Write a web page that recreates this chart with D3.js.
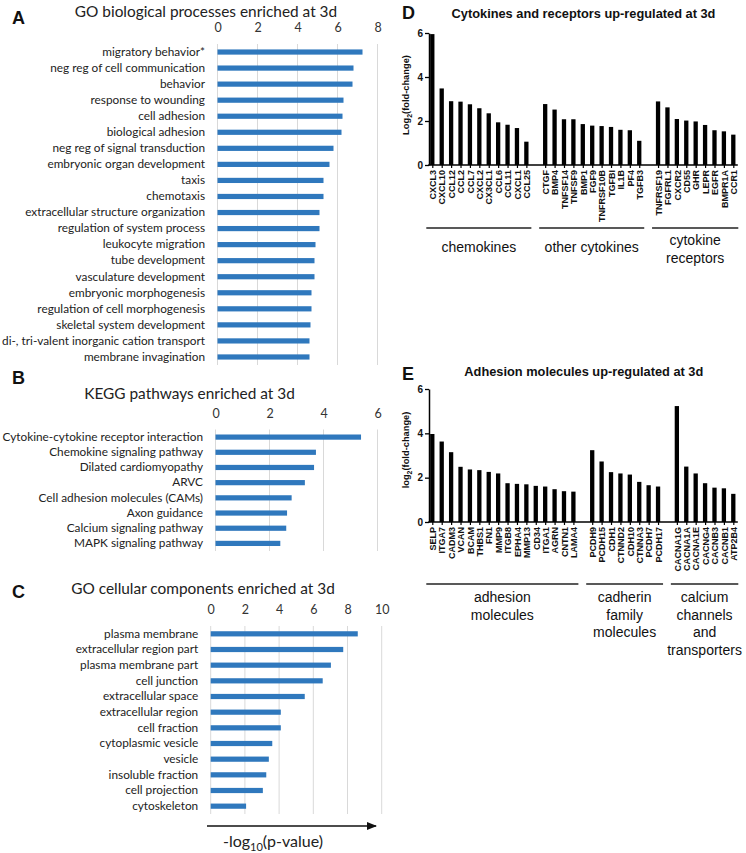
<!DOCTYPE html>
<html><head><meta charset="utf-8">
<script src="https://cdn.jsdelivr.net/npm/d3@7"></script>
<style>body{margin:0;background:#fff}svg{display:block}</style>
</head><body>
<svg id="c" width="746" height="853"></svg>
<script>
// ---------- DATA ----------
const bpLabels = ["migratory behavior*","neg reg of cell communication","behavior","response to wounding","cell adhesion","biological adhesion","neg reg of signal transduction","embryonic organ development","taxis","chemotaxis","extracellular structure organization","regulation of system process","leukocyte migration","tube development","vasculature development","embryonic morphogenesis","regulation of cell morphogenesis","skeletal system development","di-, tri-valent inorganic cation transport","membrane invagination"];
const bpValues = [7.25,6.8,6.75,6.3,6.25,6.2,5.8,5.6,5.3,5.3,5.1,5.1,4.9,4.85,4.85,4.7,4.7,4.65,4.6,4.6];
const bpTicks = [0,2,4,6,8];

const keggLabels = ["Cytokine-cytokine receptor interaction","Chemokine signaling pathway","Dilated cardiomyopathy","ARVC","Cell adhesion molecules (CAMs)","Axon guidance","Calcium signaling pathway","MAPK signaling pathway"];
const keggValues = [5.39,3.72,3.65,3.31,2.82,2.65,2.62,2.4];
const keggTicks = [0,2,4,6];

const ccLabels = ["plasma membrane","extracellular region part","plasma membrane part","cell junction","extracellular space","extracellular region","cell fraction","cytoplasmic vesicle","vesicle","insoluble fraction","cell projection","cytoskeleton"];
const ccValues = [8.6,7.75,7.03,6.55,5.5,4.1,4.1,3.6,3.4,3.25,3.05,2.07];
const ccTicks = [0,2,4,6,8,10];

const chemokineGenes = ["CXCL3","CXCL10","CCL12","CCL2","CCL7","CXCL2","CX3CL1","CCL6","CCL11","CXCL1","CCL25"];
const chemokineValues = [5.95,3.48,2.9,2.88,2.76,2.58,2.35,1.94,1.83,1.68,1.06];
const otherCytokineGenes = ["CTGF","BMP4","TNFSF14","TNFSF9","BMP1","FGF9","TNFRSF10B","TGFBI","IL1B","PF4","TGFB3"];
const otherCytokineValues = [2.77,2.52,2.08,2.08,1.86,1.79,1.77,1.73,1.6,1.58,1.1];
const receptorGenes = ["TNFRSF19","FGFRL1","CXCR2","CD55","GHR","LEPR","EGFR","BMPR1A","CCR1"];
const receptorValues = [2.89,2.62,2.09,2.02,1.98,1.82,1.58,1.53,1.38];

const adhesionGenes = ["SELP","ITGA7","CADM3","VCAN","BCAM","THBS1","FN1","MMP9","ITGB8","EPHA4","MMP13","CD34","ITGA1","AGRN","CNTN1","LAMA4"];
const adhesionValues = [3.97,3.63,3.15,2.49,2.37,2.34,2.26,2.19,1.75,1.72,1.7,1.63,1.6,1.48,1.39,1.37];
const cadherinGenes = ["PCDH9","PCDH15","CDH1","CTNND2","CDH10","CTNNA3","PCDH7","PCDH17"];
const cadherinValues = [3.24,2.73,2.25,2.19,2.14,1.81,1.66,1.6];
const calciumGenes = ["CACNA1G","CACNA1A","CACNA1E","CACNG4","CACNB3","CACNB1","ATP2B4"];
const calciumValues = [5.23,2.5,2.19,1.75,1.55,1.52,1.27];
const fcTicks = [0,2,4,6];

// ---------- DRAW ----------
const svg = d3.select("#c");
const calibri = "Lato, 'Open Sans', sans-serif";
const arial = "'Liberation Sans', Arial, sans-serif";
const blue = "#2f78bd";

function letter(t, x, y){
  svg.append("text").attr("x",x).attr("y",y).text(t)
    .attr("font-family",arial).attr("font-weight","bold").attr("font-size",18).attr("fill","#111");
}

function hbar(o){
  const x = d3.scaleLinear().domain([0,o.max]).range([o.x0,o.x1]);
  const y = d3.scaleBand().domain(o.labels).range([o.y0,o.y1]);
  const g = svg.append("g");
  g.append("text").attr("x",o.titleX).attr("y",o.titleY).attr("text-anchor","middle")
    .attr("font-family",calibri).attr("font-size",15.4).attr("fill","#222").text(o.title);
  g.selectAll("line.grid").data(o.ticks).join("line").attr("class","grid")
    .attr("x1",d=>x(d)).attr("x2",d=>x(d)).attr("y1",o.y0).attr("y2",o.y1)
    .attr("stroke","#d9d9d9").attr("stroke-width",1);
  const ax = g.append("g").attr("transform",`translate(0,${o.tickY})`)
    .call(d3.axisTop(x).tickValues(o.ticks).tickSize(0).tickPadding(0).tickFormat(d3.format("d")));
  ax.select(".domain").remove();
  ax.selectAll("text").attr("font-family",calibri).attr("font-size",12.5).attr("fill","#333");
  const bh = 5.2;
  g.selectAll("rect").data(o.values).join("rect")
    .attr("x",x(0)).attr("y",(d,i)=>y(o.labels[i])+(y.bandwidth()-bh)/2)
    .attr("width",d=>x(d)-x(0)).attr("height",bh).attr("fill",blue);
  const ay = g.append("g").attr("transform",`translate(${x(0)},0)`)
    .call(d3.axisLeft(y).tickSize(0).tickPadding(12.5));
  ay.select(".domain").remove();
  ay.selectAll("text").attr("font-family",calibri).attr("font-size",11.8).attr("fill","#222");
  return x;
}

letter("A",12,24);
hbar({labels:bpLabels,values:bpValues,ticks:bpTicks,max:8,x0:217.5,x1:377.5,y0:44,y1:365,
  tickY:31.5,title:"GO biological processes enriched at 3d",titleX:206,titleY:17});
letter("B",12,384);
hbar({labels:keggLabels,values:keggValues,ticks:keggTicks,max:6,x0:215.5,x1:377.5,y0:429.5,y1:551,
  tickY:417.5,title:"KEGG pathways enriched at 3d",titleX:189.5,titleY:399});
letter("C",12,598);
hbar({labels:ccLabels,values:ccValues,ticks:ccTicks,max:10,x0:210.7,x1:381.7,y0:626,y1:814,
  tickY:613.5,title:"GO cellular components enriched at 3d",titleX:203,titleY:593.5});

// arrow + x label for left column
svg.append("defs").append("marker").attr("id","ah").attr("viewBox","0 0 10 10")
  .attr("refX",9).attr("refY",5).attr("markerWidth",7).attr("markerHeight",7)
  .attr("orient","auto").append("path").attr("d","M0,1 L10,5 L0,9 Z").attr("fill","#111");
svg.append("line").attr("x1",207).attr("x2",376).attr("y1",826).attr("y2",826)
  .attr("stroke","#111").attr("stroke-width",1.5).attr("marker-end","url(#ah)");
const xl = svg.append("text").attr("x",273).attr("y",847).attr("text-anchor","middle")
  .attr("font-family",calibri).attr("font-size",16).attr("fill","#222");
xl.append("tspan").text("-log");
xl.append("tspan").attr("font-size",11).attr("dy",4).text("10");
xl.append("tspan").attr("dy",-4).text("(p-value)");

function vbar(o){
  const slots = [];
  o.groups.forEach((gr,gi)=>{ if(gi>0) slots.push("__gap"+gi); gr.genes.forEach(s=>slots.push(s)); });
  const x = d3.scalePoint().domain(slots).range([o.xStart,o.xEnd]);
  const y = d3.scaleLinear().domain([0,6]).range([o.yBase,o.yTop]);
  const g = svg.append("g");
  g.append("text").attr("x",o.titleX).attr("y",o.titleY).attr("text-anchor","middle")
    .attr("font-family",arial).attr("font-weight","bold").attr("font-size",12.8).attr("fill","#111").text(o.title);
  const bw = 4.3;
  o.groups.forEach(gr=>{
    g.append("g").selectAll("rect").data(gr.values).join("rect")
      .attr("x",(d,i)=>x(gr.genes[i])-bw/2).attr("y",d=>y(d))
      .attr("width",bw).attr("height",d=>y(0)-y(d)).attr("fill","#000");
  });
  // y axis
  const ay = g.append("g").attr("transform",`translate(${o.axisX},0)`)
    .call(d3.axisLeft(y).tickValues(fcTicks).tickSize(4).tickSizeOuter(0).tickPadding(2).tickFormat(d3.format("d")));
  ay.select(".domain").attr("stroke-width",1.5);
  ay.selectAll(".tick line").attr("stroke-width",1.3);
  ay.selectAll("text").attr("font-family",arial).attr("font-weight","bold").attr("font-size",10).attr("fill","#111");
  // x axis
  const genes = o.groups.flatMap(gr=>gr.genes);
  const axg = g.append("g").attr("transform",`translate(0,${o.yBase})`)
    .call(d3.axisBottom(x).tickValues(genes).tickSize(3).tickPadding(0));
  axg.select(".domain").remove();
  axg.selectAll(".tick line").attr("stroke-width",1.2);
  axg.selectAll("text").attr("transform","rotate(-90)").attr("text-anchor","end")
    .attr("x",-5).attr("y",0).attr("dy","0.36em")
    .attr("font-family",arial).attr("font-weight","bold").attr("font-size",9).attr("fill","#111");
  g.append("line").attr("x1",o.axisX-0.75).attr("x2",o.xEnd+4.5).attr("y1",o.yBase).attr("y2",o.yBase)
    .attr("stroke","#000").attr("stroke-width",1.5);
  // y title
  const yt = g.append("text").attr("transform",`translate(${o.yTitleX},${o.yTitleY}) rotate(-90)`)
    .attr("text-anchor","middle").attr("font-family",arial).attr("font-weight","bold")
    .attr("font-size",9.3).attr("fill","#111");
  yt.append("tspan").text(o.yTitle[0]);
  yt.append("tspan").attr("font-size",7).attr("dy",3).text("2");
  yt.append("tspan").attr("dy",-3).text("(fold-change)");
  // group brackets
  o.groups.forEach(gr=>{
    const a = x(gr.genes[0])-6, b = x(gr.genes[gr.genes.length-1])+5;
    g.append("line").attr("x1",a).attr("x2",b).attr("y1",o.lineY).attr("y2",o.lineY)
      .attr("stroke","#222").attr("stroke-width",1.5);
    const t = g.append("text").attr("text-anchor","middle").attr("font-family",arial)
      .attr("font-size",14).attr("fill","#111");
    const lines = gr.name.split("\n");
    const y0 = o.lineY + (lines.length===1 ? o.singleOff : o.multiOff);
    lines.forEach((ln,i)=>t.append("tspan").attr("x",(a+b)/2).attr("y",y0+i*17.5).text(ln));
  });
}

letter("D",402,19);
vbar({title:"Cytokines and receptors up-regulated at 3d",titleX:583.5,titleY:17.5,
  groups:[{name:"chemokines",genes:chemokineGenes,values:chemokineValues},
          {name:"other cytokines",genes:otherCytokineGenes,values:otherCytokineValues},
          {name:"cytokine\nreceptors",genes:receptorGenes,values:receptorValues}],
  xStart:432.3,xEnd:733.3,yBase:165,yTop:33,axisX:429,yTitleX:409,yTitleY:95,yTitle:["Log"],
  lineY:228,singleOff:24,multiOff:17});
letter("E",402,380);
vbar({title:"Adhesion molecules up-regulated at 3d",titleX:583.8,titleY:376,
  groups:[{name:"adhesion\nmolecules",genes:adhesionGenes,values:adhesionValues},
          {name:"cadherin\nfamily\nmolecules",genes:cadherinGenes,values:cadherinValues},
          {name:"calcium\nchannels\nand\ntransporters",genes:calciumGenes,values:calciumValues}],
  xStart:432.3,xEnd:733.3,yBase:522,yTop:389,axisX:429,yTitleX:409,yTitleY:450,yTitle:["log"],
  lineY:584,singleOff:18,multiOff:18});
</script>
</body></html>
